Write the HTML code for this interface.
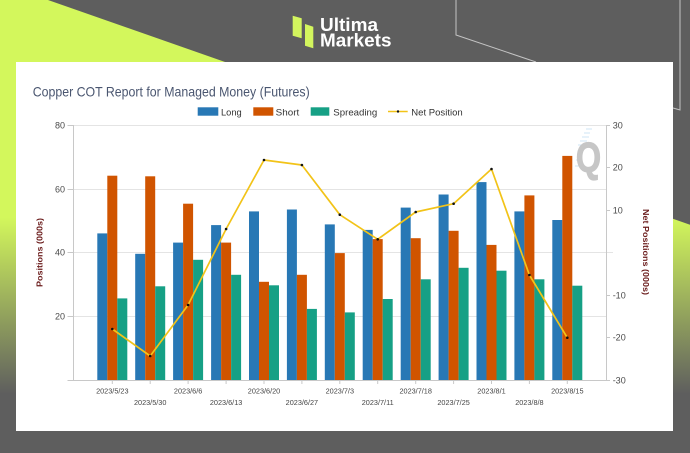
<!DOCTYPE html>
<html><head><meta charset="utf-8"><style>
html,body{margin:0;padding:0;background:#5e5e5e;}
svg{display:block;}
text{font-family:"Liberation Sans",Arial,sans-serif;}
</style></head><body>
<svg width="690" height="453" viewBox="0 0 690 453" xmlns="http://www.w3.org/2000/svg">
<defs>
<linearGradient id="lg" gradientUnits="userSpaceOnUse" x1="0" y1="0" x2="0" y2="453">
<stop offset="0" stop-color="#d3f75c"/>
<stop offset="0.48" stop-color="#d3f75c"/>
<stop offset="0.87" stop-color="#5e5e5e"/>
<stop offset="1" stop-color="#5e5e5e"/>
</linearGradient>
</defs>
<rect x="0" y="0" width="690" height="453" fill="#5e5e5e"/>
<polygon points="0,0 48,0 690,224.7 690,453 0,453" fill="url(#lg)"/>
<polyline points="456,0 456,35 536,62" fill="none" stroke="#c4c4c4" stroke-width="1"/>
<polyline points="680,0 680,110 673,108" fill="none" stroke="#c4c4c4" stroke-width="1"/>
<!-- logo -->
<polygon points="292.7,15.7 301.7,18.3 301.7,38.3 292.7,35.7" fill="#d3f55e"/>
<polygon points="305,24 313.3,26.7 313.3,48.3 305,45.7" fill="#d3f55e"/>
<text x="320" y="31" font-size="18" font-weight="bold" fill="#ffffff" textLength="58" lengthAdjust="spacingAndGlyphs">Ultima</text>
<text x="320" y="46.7" font-size="18" font-weight="bold" fill="#ffffff" textLength="71.5" lengthAdjust="spacingAndGlyphs">Markets</text>
<!-- panel -->
<rect x="16" y="62" width="657" height="369" fill="#ffffff"/>
<text x="32.7" y="96.5" font-size="13.7" fill="#4a5670" textLength="277" lengthAdjust="spacingAndGlyphs">Copper COT Report for Managed Money (Futures)</text>
<!-- legend -->
<rect x="197.7" y="107.3" width="20.6" height="8.4" fill="#2878b5"/>
<text x="221" y="115.3" font-size="9.3" fill="#333" textLength="20.7" lengthAdjust="spacingAndGlyphs">Long</text>
<rect x="253.3" y="107.3" width="20" height="8.4" fill="#d05400"/>
<text x="275.7" y="115.3" font-size="9.3" fill="#333" textLength="23.6" lengthAdjust="spacingAndGlyphs">Short</text>
<rect x="310.7" y="107.3" width="18.6" height="8.4" fill="#16a085"/>
<text x="333.3" y="115.3" font-size="9.3" fill="#333" textLength="44" lengthAdjust="spacingAndGlyphs">Spreading</text>
<line x1="388" y1="111.5" x2="407.7" y2="111.5" stroke="#f2c318" stroke-width="1.5"/>
<circle cx="398" cy="111.5" r="1.2" fill="#111"/>
<text x="411.3" y="115.3" font-size="9.3" fill="#333" textLength="51.4" lengthAdjust="spacingAndGlyphs">Net Position</text>
<!-- watermark -->
<g stroke="#cfe6f5" stroke-width="1">
<line x1="586" y1="129" x2="592" y2="129"/><line x1="584" y1="133" x2="590" y2="133"/><line x1="582" y1="137" x2="589" y2="137"/><line x1="580" y1="141" x2="587" y2="141"/><line x1="578" y1="145" x2="584" y2="145"/><line x1="576" y1="160" x2="580" y2="160"/><line x1="575" y1="166" x2="579" y2="166"/>
</g>
<text x="576" y="172" font-size="42" font-weight="bold" fill="#c6c6c6" stroke="#c6c6c6" stroke-width="1.2" textLength="25" lengthAdjust="spacingAndGlyphs">Q</text>
<!-- grid -->
<g stroke="#e4e4e4" stroke-width="1">
<line x1="73" y1="125.5" x2="606" y2="125.5"/>
<line x1="73" y1="189.5" x2="606" y2="189.5"/>
<line x1="73" y1="252.5" x2="613" y2="252.5"/>
<line x1="73" y1="316.5" x2="606" y2="316.5"/>
</g>
<g stroke="#c8c8c8" stroke-width="1">
<line x1="73.5" y1="125" x2="73.5" y2="380"/>
<line x1="606.5" y1="125" x2="606.5" y2="380"/>
<line x1="67.5" y1="380.5" x2="610" y2="380.5"/>
<line x1="67.5" y1="125.5" x2="73" y2="125.5"/>
<line x1="67.5" y1="189.5" x2="73" y2="189.5"/>
<line x1="67.5" y1="252.5" x2="73" y2="252.5"/>
<line x1="67.5" y1="316.5" x2="73" y2="316.5"/>
<line x1="606" y1="125.5" x2="610" y2="125.5"/>
<line x1="606" y1="167.5" x2="610" y2="167.5"/>
<line x1="606" y1="210.5" x2="610" y2="210.5"/>
<line x1="606" y1="295.5" x2="610" y2="295.5"/>
<line x1="606" y1="337.5" x2="610" y2="337.5"/>
</g>
<!-- left tick labels -->
<g font-size="9" fill="#4a4a4a" text-anchor="end">
<text x="65" y="128.5">80</text>
<text x="65" y="192.5">60</text>
<text x="65" y="255.5">40</text>
<text x="65" y="319.5">20</text>
</g>
<g font-size="9" fill="#4a4a4a">
<text x="612.7" y="128.5">30</text>
<text x="612.7" y="170.5">20</text>
<text x="612.7" y="213.5">10</text>
<text x="612.7" y="298.5">-10</text>
<text x="612.7" y="340.5">-20</text>
<text x="612.7" y="383.5">-30</text>
</g>
<text transform="translate(42.5,252.5) rotate(-90)" text-anchor="middle" font-size="8.5" font-weight="bold" fill="#6b1c1c" textLength="69" lengthAdjust="spacingAndGlyphs">Positions (000s)</text>
<text transform="translate(643,252) rotate(90)" text-anchor="middle" font-size="8.5" font-weight="bold" fill="#6b1c1c" textLength="86" lengthAdjust="spacingAndGlyphs">Net Positions (000s)</text>
<!-- bars -->
<g id="bars">
<rect x="97.3" y="233.4" width="10" height="146.6" fill="#2878b5"/><rect x="107.3" y="175.7" width="10" height="204.3" fill="#d05400"/><rect x="117.3" y="298.4" width="10" height="81.6" fill="#16a085"/>
<rect x="135.2" y="253.8" width="10" height="126.2" fill="#2878b5"/><rect x="145.2" y="176.3" width="10" height="203.7" fill="#d05400"/><rect x="155.2" y="286.3" width="10" height="93.7" fill="#16a085"/>
<rect x="173.1" y="242.6" width="10" height="137.4" fill="#2878b5"/><rect x="183.1" y="203.7" width="10" height="176.3" fill="#d05400"/><rect x="193.1" y="259.8" width="10" height="120.2" fill="#16a085"/>
<rect x="211.1" y="225.1" width="10" height="154.9" fill="#2878b5"/><rect x="221.1" y="242.6" width="10" height="137.4" fill="#d05400"/><rect x="231.1" y="274.8" width="10" height="105.2" fill="#16a085"/>
<rect x="249.0" y="211.4" width="10" height="168.6" fill="#2878b5"/><rect x="259.0" y="281.8" width="10" height="98.2" fill="#d05400"/><rect x="269.0" y="285.3" width="10" height="94.7" fill="#16a085"/>
<rect x="286.9" y="209.5" width="10" height="170.5" fill="#2878b5"/><rect x="296.9" y="274.8" width="10" height="105.2" fill="#d05400"/><rect x="306.9" y="308.9" width="10" height="71.1" fill="#16a085"/>
<rect x="324.8" y="224.4" width="10" height="155.6" fill="#2878b5"/><rect x="334.8" y="253.1" width="10" height="126.9" fill="#d05400"/><rect x="344.8" y="312.4" width="10" height="67.6" fill="#16a085"/>
<rect x="362.7" y="229.9" width="10" height="150.1" fill="#2878b5"/><rect x="372.7" y="239.1" width="10" height="140.9" fill="#d05400"/><rect x="382.7" y="299.0" width="10" height="81.0" fill="#16a085"/>
<rect x="400.7" y="207.6" width="10" height="172.4" fill="#2878b5"/><rect x="410.7" y="238.2" width="10" height="141.8" fill="#d05400"/><rect x="420.7" y="279.3" width="10" height="100.7" fill="#16a085"/>
<rect x="438.6" y="194.5" width="10" height="185.5" fill="#2878b5"/><rect x="448.6" y="230.8" width="10" height="149.2" fill="#d05400"/><rect x="458.6" y="267.8" width="10" height="112.2" fill="#16a085"/>
<rect x="476.5" y="182.1" width="10" height="197.9" fill="#2878b5"/><rect x="486.5" y="244.9" width="10" height="135.1" fill="#d05400"/><rect x="496.5" y="270.7" width="10" height="109.3" fill="#16a085"/>
<rect x="514.4" y="211.4" width="10" height="168.6" fill="#2878b5"/><rect x="524.4" y="195.4" width="10" height="184.6" fill="#d05400"/><rect x="534.4" y="279.3" width="10" height="100.7" fill="#16a085"/>
<rect x="552.3" y="220.0" width="10" height="160.0" fill="#2878b5"/><rect x="562.3" y="155.9" width="10" height="224.1" fill="#d05400"/><rect x="572.3" y="285.7" width="10" height="94.3" fill="#16a085"/>
</g>
<!-- x ticks -->
<g stroke="#c8c8c8" stroke-width="1">
<line x1="112.3" y1="380" x2="112.3" y2="384"/><line x1="150.2" y1="380" x2="150.2" y2="384"/><line x1="188.1" y1="380" x2="188.1" y2="384"/><line x1="226.1" y1="380" x2="226.1" y2="384"/><line x1="264.0" y1="380" x2="264.0" y2="384"/><line x1="301.9" y1="380" x2="301.9" y2="384"/><line x1="339.8" y1="380" x2="339.8" y2="384"/><line x1="377.7" y1="380" x2="377.7" y2="384"/><line x1="415.7" y1="380" x2="415.7" y2="384"/><line x1="453.6" y1="380" x2="453.6" y2="384"/><line x1="491.5" y1="380" x2="491.5" y2="384"/><line x1="529.4" y1="380" x2="529.4" y2="384"/><line x1="567.3" y1="380" x2="567.3" y2="384"/>
</g>
<!-- net line -->
<polyline points="112.3,329 150.2,356 188.1,305 226.1,229 264.0,160 301.9,165 339.8,214.7 377.7,239.3 415.7,212 453.6,203.7 491.5,169 529.4,275 567.3,337.7" fill="none" stroke="#f2c318" stroke-width="1.7" stroke-linejoin="round"/>
<g fill="#111">
<circle cx="112.3" cy="329" r="1.3"/><circle cx="150.2" cy="356" r="1.3"/><circle cx="188.1" cy="305" r="1.3"/><circle cx="226.1" cy="229" r="1.3"/><circle cx="264.0" cy="160" r="1.3"/><circle cx="301.9" cy="165" r="1.3"/><circle cx="339.8" cy="214.7" r="1.3"/><circle cx="377.7" cy="239.3" r="1.3"/><circle cx="415.7" cy="212" r="1.3"/><circle cx="453.6" cy="203.7" r="1.3"/><circle cx="491.5" cy="169" r="1.3"/><circle cx="529.4" cy="275" r="1.3"/><circle cx="567.3" cy="337.7" r="1.3"/>
</g>
<!-- x labels -->
<g font-size="7.3" fill="#444" text-anchor="middle">
<text x="112.3" y="393.5">2023/5/23</text>
<text x="150.2" y="405">2023/5/30</text>
<text x="188.1" y="393.5">2023/6/6</text>
<text x="226.1" y="405">2023/6/13</text>
<text x="264.0" y="393.5">2023/6/20</text>
<text x="301.9" y="405">2023/6/27</text>
<text x="339.8" y="393.5">2023/7/3</text>
<text x="377.7" y="405">2023/7/11</text>
<text x="415.7" y="393.5">2023/7/18</text>
<text x="453.6" y="405">2023/7/25</text>
<text x="491.5" y="393.5">2023/8/1</text>
<text x="529.4" y="405">2023/8/8</text>
<text x="567.3" y="393.5">2023/8/15</text>
</g>
</svg>
</body></html>
